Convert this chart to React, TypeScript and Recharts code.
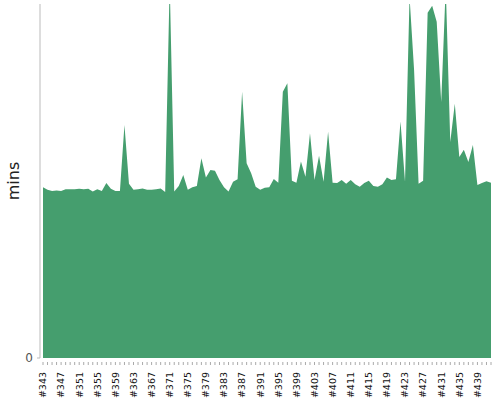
import React from "react";
import { AreaChart, Area, XAxis, YAxis } from "recharts";

// build numbers along the x axis
const builds = [
  "#343", "#344", "#345", "#346", "#347", "#348", "#349", "#350", "#351", "#352",
  "#353", "#354", "#355", "#356", "#357", "#358", "#359", "#360", "#361", "#362",
  "#363", "#364", "#365", "#366", "#367", "#368", "#369", "#370", "#371", "#372",
  "#373", "#374", "#375", "#376", "#377", "#378", "#379", "#380", "#381", "#382",
  "#383", "#384", "#385", "#386", "#387", "#388", "#389", "#390", "#391", "#392",
  "#393", "#394", "#395", "#396", "#397", "#398", "#399", "#400", "#401", "#402",
  "#403", "#404", "#405", "#406", "#407", "#408", "#409", "#410", "#411", "#412",
  "#413", "#414", "#415", "#416", "#417", "#418", "#419", "#420", "#421", "#422",
  "#423", "#424", "#425", "#426", "#427", "#428", "#429", "#430", "#431", "#432",
  "#433", "#434", "#435", "#436", "#437", "#438", "#439", "#440", "#441", "#442",
];

// build duration in minutes
const minutes = [
  48.2, 47.5, 47.2, 47.3, 47.2, 47.7, 47.7, 47.7, 47.8, 47.7,
  47.8, 47.0, 47.7, 47.2, 49.4, 47.8, 47.2, 47.2, 65.8, 49.2,
  47.5, 47.7, 47.9, 47.5, 47.5, 47.7, 47.9, 46.9, 106, 47.0,
  48.6, 51.7, 47.5, 48.2, 48.6, 56.4, 51.0, 53.1, 52.9, 50.3,
  48.2, 47.0, 49.8, 50.5, 75.2, 55.0, 52.2, 48.4, 47.5, 48.1,
  48.2, 50.6, 49.5, 75.2, 77.6, 50.1, 49.5, 55.5, 51.2, 63.5,
  50.3, 57.1, 49.8, 63.9, 49.5, 49.4, 50.3, 49.2, 50.3, 49.1,
  48.4, 49.4, 50.1, 48.6, 48.4, 49.1, 51.0, 50.3, 50.5, 66.8,
  49.8, 102, 81.4, 49.2, 50.1, 97.5, 99.5, 95, 72.3, 105,
  61.0, 71.8, 56.8, 58.8, 55.4, 60.2, 48.9, 49.4, 49.9, 49.5,
];

const yTicks = [0];

const data = builds.map((build, i) => ({ build, mins: minutes[i] }));

const FONT = "'DejaVu Sans', Verdana, sans-serif";

// every build gets a small tick mark, every 4th one gets a label
const BuildTick = (props: any) => {
  const { x, y, index, payload } = props;
  const ty = y + 14;
  return (
    <g>
      <line x1={x} x2={x} y1={y + 4} y2={y + 7} stroke="#aaa" />
      {index % 4 === 0 && (
        <text
          x={x}
          y={ty}
          transform={`rotate(-90, ${x}, ${ty})`}
          textAnchor="end"
          dy="0.35em"
          fontSize={9.5}
          fontFamily={FONT}
          fill="#111"
        >
          {payload.value}
        </text>
      )}
    </g>
  );
};

export default function App() {
  return (
    <div style={{ position: "absolute", left: 0, top: 0, width: 500, height: 400 }}>
      <AreaChart
        width={500}
        height={400}
        data={data}
        margin={{ top: 4, right: 9, bottom: 0, left: 0 }}
      >
        <XAxis
          dataKey="build"
          height={42}
          interval={0}
          padding={{ left: 3, right: 0 }}
          axisLine={false}
          tickLine={false}
          tickSize={0}
          tickMargin={0}
          tick={<BuildTick />}
        />
        <YAxis
          width={40}
          domain={[0, 100]}
          allowDataOverflow
          ticks={yTicks}
          axisLine={{ stroke: "#bbb" }}
          tickLine={{ stroke: "#bbb" }}
          tickSize={3}
          tickMargin={4}
          tick={{ fontSize: 12, fill: "#555", fontFamily: FONT }}
          label={{
            value: "mins",
            angle: -90,
            position: "center",
            dx: -7,
            fontSize: 16,
            fill: "#222",
            fontFamily: FONT,
          }}
        />
        <Area
          type="linear"
          dataKey="mins"
          stroke="none"
          fill="#459e6e"
          fillOpacity={1}
          isAnimationActive={false}
        />
      </AreaChart>
    </div>
  );
}
